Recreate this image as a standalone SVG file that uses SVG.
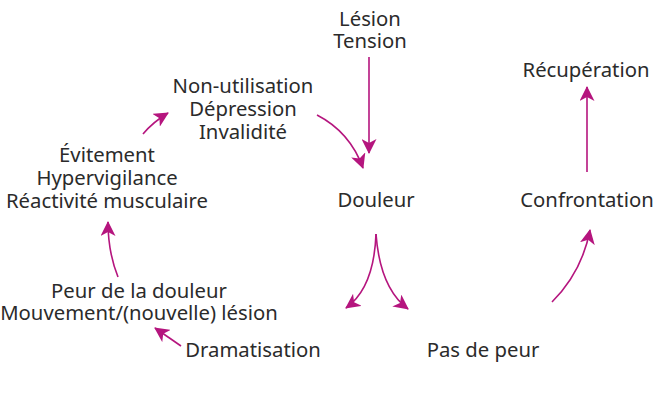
<svg xmlns="http://www.w3.org/2000/svg" width="655" height="400" viewBox="0 0 655 400">
<defs>
<style>
text{font-family:"Noto Sans","Open Sans","DejaVu Sans",sans-serif;font-size:20.3px;fill:#2b2b2b;text-anchor:middle}
.c{fill:none;stroke:#b5157e;stroke-width:1.6;marker-end:url(#ah)}
</style>
<marker id="ah" markerUnits="userSpaceOnUse" markerWidth="15" markerHeight="15" viewBox="0 0 15 15" refX="14" refY="7.5" orient="auto">
<path d="M0,0 L15,7.5 L0,15 L4,7.5 Z" fill="#b5157e"/>
</marker>
</defs>
<rect width="655" height="400" fill="#ffffff"/>
<g id="connectors">
<path class="c" d="M369,57 L369,153"/>
<path class="c" d="M317,115 Q350,132 363,168"/>
<path class="c" d="M143,134 Q153,122 168,113"/>
<path class="c" d="M118,277 Q108,252 108,222"/>
<path class="c" d="M181,346 L155,328"/>
<path class="c" d="M376,234 Q374,288 346,308"/>
<path class="c" d="M376,234 Q380,288 408,309"/>
<path class="c" d="M552,302 Q582,272 590,230"/>
<path class="c" d="M587,172 L587,87"/>
</g>
<g id="lesion"><text x="370" y="26"><tspan x="370">Lésion</tspan><tspan x="370" dy="22">Tension</tspan></text></g>
<g id="nonutil"><text x="243" y="93"><tspan x="243">Non-utilisation</tspan><tspan x="243" dy="23">Dépression</tspan><tspan x="243" dy="23">Invalidité</tspan></text></g>
<g id="evitement"><text x="107" y="162"><tspan x="107">Évitement</tspan><tspan x="107" dy="23">Hypervigilance</tspan><tspan x="107" dy="23">Réactivité musculaire</tspan></text></g>
<g id="douleur"><text x="376" y="207">Douleur</text></g>
<g id="peur"><text x="139" y="298"><tspan x="139">Peur de la douleur</tspan><tspan x="139" dy="22">Mouvement/(nouvelle) lésion</tspan></text></g>
<g id="dramatisation"><text x="253" y="357">Dramatisation</text></g>
<g id="pasdepeur"><text x="483" y="357">Pas de peur</text></g>
<g id="confrontation"><text x="587" y="207">Confrontation</text></g>
<g id="recuperation"><text x="586" y="77">Récupération</text></g>
</svg>
